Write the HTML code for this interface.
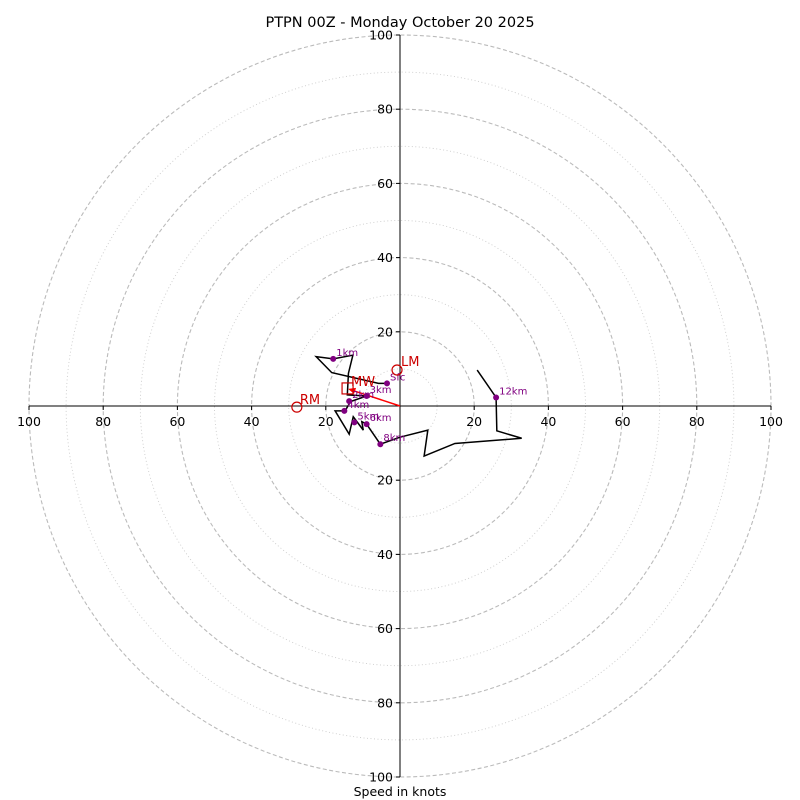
<!DOCTYPE html>
<html><head><meta charset="utf-8"><style>
html,body{margin:0;padding:0;background:#fff;}
svg{display:block;font-family:"DejaVu Sans","Liberation Sans",sans-serif;}
</style></head><body>
<svg id="chart" width="800" height="800">
<text x="400" y="27" text-anchor="middle" font-size="14.5">PTPN 00Z - Monday October 20 2025</text>
<g id="rings"></g><g id="axes"></g><g id="ticks"></g><g id="trace"></g><g id="markers"></g>
<text x="400" y="796" text-anchor="middle" font-size="12.5">Speed in knots</text>
</svg>
<script>
// wind components in knots (u east, v north)
const traceU=[-3.5,-5.8,-18.4,-22.6,-18.0,-12.7,-13.9,-14.2,-9.0,-13.3,-14.8,-17.5,-13.7,-12.6,-9.9,-10.3,-9.0,-5.3,0,7.5,6.5,14.8,32.8,26.1,25.9,20.8];
const traceV=[6.1,6.1,9.0,13.3,12.7,13.7,8.8,3.0,2.7,1.2,-1.3,-1.3,-7.6,-2.9,-6.5,-4.2,-4.9,-10.3,-8.4,-6.5,-13.5,-10.1,-8.7,-6.7,2.3,9.7];
const levelLabels=["Sfc","1km","2km","3km","4km","5km","6km","8km","12km"];
const levelU=[-3.5,-18.0,-13.7,-9.0,-15.0,-12.3,-9.0,-5.3,25.9];
const levelV=[6.1,12.7,1.3,2.7,-1.3,-4.4,-4.9,-10.3,2.3];
const ringValues=[10,20,30,40,50,60,70,80,90,100];
const tickValues=[20,40,60,80,100];
const lmUV=[-0.8,9.7], rmUV=[-27.8,-0.3], mwUV=[-14,4.6];

const NS="http://www.w3.org/2000/svg";
const cx=400,cy=406,sc=3.71;
const X=u=>cx+u*sc, Y=v=>cy-v*sc;
function mk(tag,parent,attrs){const e=document.createElementNS(NS,tag);for(const k in attrs)e.setAttribute(k,attrs[k]);document.getElementById(parent).appendChild(e);return e;}

ringValues.forEach(r=>{
  const c=mk('circle','rings',{cx:cx,cy:cy,r:r*sc,fill:'none',stroke:r%20==0?'#bbb':'#ccc','stroke-width':r%20==0?1.1:0.9,'stroke-dasharray':r%20==0?'4,2.5':'1,2.5'});
  
  
});
let a=mk('line','axes',{x1:X(-100),x2:X(100),y1:cy,y2:cy,stroke:'#000','stroke-width':1});


a=mk('line','axes',{x1:cx,x2:cx,y1:Y(100),y2:Y(-100),stroke:'#000','stroke-width':1});



tickValues.forEach(t=>{
  [1,-1].forEach(s=>{
    let m=mk('line','ticks',{x1:X(s*t),x2:X(s*t),y1:cy,y2:cy+4,stroke:'#000','stroke-width':1});
    
    
    let e=mk('text','ticks',{x:X(s*t),y:cy+20,'text-anchor':'middle','font-size':12.5});
    e.textContent=t;
    
    
    const yy=Y(s*t);
    m=mk('line','ticks',{x1:cx-4,x2:cx,y1:yy,y2:yy,stroke:'#000','stroke-width':1});
    
    
    e=mk('text','ticks',{x:cx-7,y:yy+4.5,'text-anchor':'end','font-size':12.5});
    e.textContent=t;
    
    
  });
});

let pts=traceU.map((u,i)=>X(u)+','+Y(traceV[i])).join(' ');
let pl=mk('polyline','trace',{points:pts,fill:'none',stroke:'#000','stroke-width':1.5});



let ar=mk('line','markers',{x1:cx,y1:cy,x2:X(mwUV[0])+3,y2:Y(mwUV[1])+1,stroke:'red','stroke-width':1.5});


let ah=mk('polygon','markers',{points:`${X(mwUV[0])},${Y(mwUV[1])} ${X(mwUV[0])+8},${Y(mwUV[1])-1} ${X(mwUV[0])+6},${Y(mwUV[1])+5}`,fill:'red'});



levelLabels.forEach((l,i)=>{
  let d=mk('circle','markers',{cx:X(levelU[i]),cy:Y(levelV[i]),r:3,fill:'purple'});
  
  
  let t=mk('text','markers',{x:X(levelU[i])+3,y:Y(levelV[i])-3,'font-size':10,fill:'purple'});
  t.textContent=l;
  
  
});

let c=mk('circle','markers',{cx:X(lmUV[0]),cy:Y(lmUV[1]),r:5,fill:'none',stroke:'#c00','stroke-width':1.2});


let t=mk('text','markers',{x:X(lmUV[0])+4,y:Y(lmUV[1])-4,'font-size':13,fill:'#c00'});t.textContent='LM';


c=mk('circle','markers',{cx:X(rmUV[0]),cy:Y(rmUV[1]),r:5,fill:'none',stroke:'#c00','stroke-width':1.2});


t=mk('text','markers',{x:X(rmUV[0])+3,y:Y(rmUV[1])-3,'font-size':13,fill:'#c00'});t.textContent='RM';


c=mk('rect','markers',{x:X(mwUV[0])-6,y:Y(mwUV[1])-6,width:11,height:11,fill:'none',stroke:'#c00','stroke-width':1.2});


t=mk('text','markers',{x:X(mwUV[0])+3,y:Y(mwUV[1])-3,'font-size':13,fill:'#c00'});t.textContent='MW';


</script>
</body></html>
